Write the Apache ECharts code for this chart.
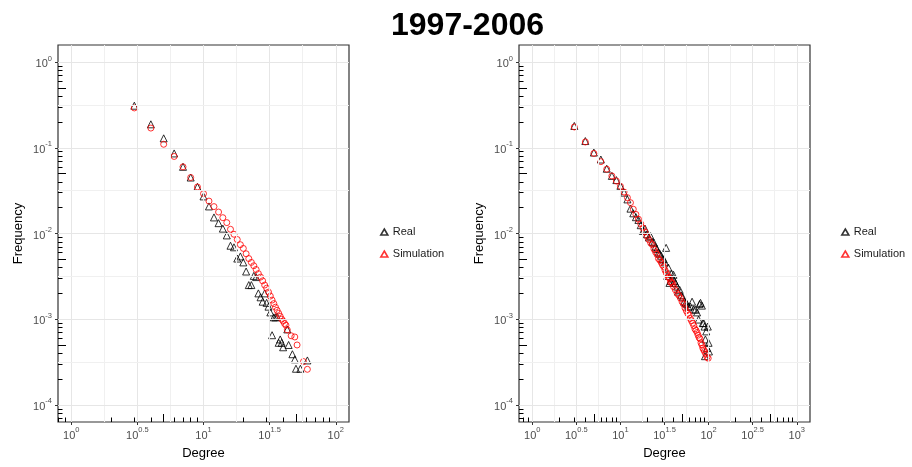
<!DOCTYPE html>
<html>
<head>
<meta charset="utf-8">
<script src="https://cdn.jsdelivr.net/npm/echarts@6/dist/echarts.min.js"></script>
<style>
html,body{margin:0;padding:0;background:#fff;}
#chart{width:912px;height:467px;}
</style>
</head>
<body>
<div id="chart"></div>
<script>
// ---------------- data (degree, frequency) ----------------
const leftRealDeg  = [3,4,5,6,7,8,9,10,11,12,13,14,15,16,17,18,19,20,21,22,23,24,25,26,27,28,29,30,31,32,33,34,35,36,37,38,39,40,43,44,47,49,50,54,61];
const leftRealFreq = [0.31,0.188,0.129,0.086,0.060,0.045,0.035,0.0271,0.0207,0.0154,0.0132,0.0114,0.0095,0.0072,0.0069,0.0051,0.0054,0.0046,0.0036,0.0025,0.0025,0.0032,0.0031,0.0020,0.0018,0.0016,0.0020,0.00155,0.0014,0.0012,0.00065,0.00105,0.00105,0.00107,0.00053,0.00058,0.00053,0.00047,0.00076,0.00050,0.00039,0.00034,0.000264,0.000264,0.00033];

const leftSimDeg  = [3,4,5,6,7,8,9,10,11,12,13,14,15,16,17,18,19,20,21,22,23,24,25,26,27,28,29,30,31,32,33,34,35,36,37,38,39,40,41,42,43,46,49,51,57,61];
const leftSimFreq = [0.292,0.170,0.110,0.0793,0.060,0.045,0.0349,0.0292,0.0239,0.0206,0.0178,0.0153,0.0134,0.0112,0.0098,0.0085,0.0074,0.0067,0.0058,0.0051,0.0046,0.0042,0.0038,0.0034,0.0031,0.0028,0.0025,0.0023,0.00207,0.00186,0.00167,0.00152,0.00138,0.00127,0.00117,0.00108,0.00100,0.00095,0.00089,0.00085,0.00075,0.00064,0.00062,0.00050,0.00032,0.00026];

const rightRealDeg  = [3,4,5,6,7,8,9,10,11,12,13,14,15,16,17,18,19,20,21,22,23,24,25,26,27,28,29,30,31,32,33,34,35,36,37,38,39,40,41,42,44,45,47,49,51,53,55,57,59,62,65,68,71,74,77,79,81,84,86,88,90,91,92,94,96,98,100,101];
const rightRealFreq = [0.18,0.12,0.088,0.073,0.057,0.047,0.042,0.036,0.030,0.025,0.0195,0.0172,0.0155,0.0144,0.0125,0.0107,0.0114,0.0098,0.0090,0.0093,0.0080,0.0078,0.0070,0.0066,0.0060,0.0058,0.0055,0.0050,0.0050,0.0046,0.0068,0.0032,0.0040,0.00265,0.0028,0.0034,0.0030,0.0033,0.0028,0.00265,0.0024,0.0021,0.0022,0.0019,0.0018,0.0016,0.00155,0.0015,0.0014,0.00141,0.0016,0.0013,0.00129,0.0012,0.00099,0.0015,0.00155,0.00144,0.0009,0.0009,0.00082,0.00037,0.00058,0.00072,0.00046,0.00082,0.00053,0.00042];

const rightSimDeg  = [3,4,5,6,7,8,9,10,11,12,13,14,15,16,17,18,19,20,21,22,23,24,25,26,27,28,29,30,31,32,33,34,35,36,37,38,39,40,42,44,46,48,50,52,54,56,58,60,62,64,66,68,70,72,74,76,78,80,82,84,86,88,90,93,96,99];
const rightSimFreq = [0.175,0.117,0.086,0.069,0.0563,0.047,0.041,0.0355,0.0305,0.0262,0.0229,0.0192,0.0167,0.0147,0.0130,0.0116,0.0104,0.0093,0.0085,0.0078,0.0074,0.0066,0.0061,0.0057,0.0051,0.0049,0.0046,0.0043,0.0041,0.00375,0.0035,0.0033,0.0031,0.0030,0.0027,0.0027,0.0026,0.0024,0.0022,0.0020,0.0019,0.00176,0.0016,0.0015,0.00135,0.00125,0.00117,0.00112,0.00102,0.00096,0.0009,0.00084,0.00077,0.00074,0.0007,0.00065,0.00061,0.00059,0.00053,0.0005,0.00046,0.00044,0.00042,0.00039,0.00036,0.00035];

// ---------------- tick labels (log10 exponents) ----------------
const xBreaksLeft  = [0, 0.5, 1, 1.5, 2];
const xBreaksRight = [0, 0.5, 1, 1.5, 2, 2.5, 3];
const yBreaks      = [-4, -3, -2, -1, 0];

const seriesNames = ['Real', 'Simulation'];
const titleText = '1997-2006';
const xName = 'Degree';
const yName = 'Frequency';

// ---------------- helpers ----------------
const L10 = Math.log10;
function pts(deg, freq) { return deg.map((d, i) => [L10(d), L10(freq[i])]); }
function logTicks(lo, hi, mults) {
  const out = [];
  for (let k = Math.floor(lo) - 1; k <= Math.ceil(hi); k++) {
    for (const m of mults) {
      const v = k + L10(m);
      if (v >= lo - 1e-9 && v <= hi + 1e-9) out.push(v);
    }
  }
  return out;
}
function halves(breaks, lo, hi) {
  const step = breaks[1] - breaks[0];
  const out = [];
  for (let i = -1; i < breaks.length; i++) {
    const v = breaks[0] + (i + 0.5) * step;
    if (v > lo && v < hi) out.push(v);
  }
  return out;
}
function expStr(v) { const r = Math.round(v * 10) / 10; return String(r === 0 ? 0 : r); }

const FONT = 'Liberation Sans, Arial, Helvetica, sans-serif';
const rich = {
  b: { fontSize: 11, color: '#4d4d4d', fontFamily: FONT, verticalAlign: 'bottom', lineHeight: 15 },
  s: { fontSize: 7.5, color: '#4d4d4d', fontFamily: FONT, verticalAlign: 'top', lineHeight: 9 }
};
const labFmt = v => '{b|10}{s|' + expStr(v) + '}';

const option = {
  animation: false,
  backgroundColor: '#fff',
  title: {
    text: titleText, left: 386, top: 5,
    textStyle: { fontSize: 32, fontWeight: 'bold', color: '#000', fontFamily: FONT }
  },
  grid: [], xAxis: [], yAxis: [], series: [],
  legend: []
};

function addPanel(gi, left, xMin, xMax, xBreaks, realD, realF, simD, simF, legendLeft) {
  const yMin = -4.2, yMax = 0.2;
  option.grid.push({ left: left, top: 45, width: 291, height: 377, show: true,
    borderColor: '#333', borderWidth: 1.2, backgroundColor: '#fff', containLabel: false });
  const xi = option.xAxis.length, yi = option.yAxis.length;
  const common = { gridIndex: gi, type: 'value', axisLine: { show: false, onZero: false },
    splitLine: { show: false }, axisPointer: { show: false } };
  // x axes
  option.xAxis.push(Object.assign({}, common, { min: xMin, max: xMax, position: 'bottom',
    axisTick: { show: true, customValues: xBreaks, inside: false, length: 3, lineStyle: { color: '#333', width: 1 } },
    axisLabel: { show: true, customValues: xBreaks, formatter: labFmt, rich: rich, margin: 4 },
    name: xName, nameLocation: 'middle', nameGap: 25,
    nameTextStyle: { fontSize: 13, color: '#000', fontFamily: FONT } }));
  const xTickSets = [[logTicks(xMin, xMax, [1]), 11.5], [logTicks(xMin, xMax, [5]), 8], [logTicks(xMin, xMax, [2,3,4,6,7,8,9]), 4.5]];
  xTickSets.forEach(([vals, len]) => option.xAxis.push(Object.assign({}, common, { min: xMin, max: xMax, position: 'bottom',
    axisTick: { show: true, customValues: vals, inside: true, length: len, lineStyle: { color: '#000', width: 1 } },
    axisLabel: { show: false } })));
  // y axes
  option.yAxis.push(Object.assign({}, common, { min: yMin, max: yMax, position: 'left',
    axisTick: { show: true, customValues: yBreaks, inside: false, length: 3, lineStyle: { color: '#333', width: 1 } },
    axisLabel: { show: true, customValues: yBreaks, formatter: labFmt, rich: rich, margin: 6 },
    name: yName, nameLocation: 'middle', nameGap: 33, nameRotate: 90,
    nameTextStyle: { fontSize: 13, color: '#000', fontFamily: FONT } }));
  const yTickSets = [[logTicks(yMin, yMax, [1]), 11.5], [logTicks(yMin, yMax, [5]), 8], [logTicks(yMin, yMax, [2,3,4,6,7,8,9]), 4.5]];
  yTickSets.forEach(([vals, len]) => option.yAxis.push(Object.assign({}, common, { min: yMin, max: yMax, position: 'left',
    axisTick: { show: true, customValues: vals, inside: true, length: len, lineStyle: { color: '#000', width: 1 } },
    axisLabel: { show: false } })));

  // grid lines via markLine
  const major = { color: '#e6e6e6', width: 1, type: 'solid' };
  const minor = { color: '#f0f0f0', width: 1, type: 'solid' };
  const ml = [];
  xBreaks.forEach(v => ml.push({ xAxis: v, lineStyle: major }));
  halves(xBreaks, xMin, xMax).forEach(v => ml.push({ xAxis: v, lineStyle: minor }));
  yBreaks.forEach(v => ml.push({ yAxis: v, lineStyle: major }));
  halves(yBreaks, yMin, yMax).forEach(v => ml.push({ yAxis: v, lineStyle: minor }));
  option.series.push({ type: 'scatter', xAxisIndex: xi, yAxisIndex: yi, data: [], silent: true, z: 1,
    markLine: { silent: true, symbol: ['none', 'none'], label: { show: false }, animation: false,
      emphasis: { disabled: true }, data: ml } });

  option.series.push({ type: 'scatter', name: seriesNames[0], xAxisIndex: xi, yAxisIndex: yi,
    data: pts(realD, realF), symbol: 'triangle', symbolSize: 7, z: 3,
    itemStyle: { color: 'rgba(0,0,0,0)', borderColor: '#000', borderWidth: 1 } });
  option.series.push({ type: 'scatter', name: seriesNames[1], xAxisIndex: xi, yAxisIndex: yi,
    data: pts(simD, simF), symbol: 'circle', symbolSize: 6, z: 4,
    itemStyle: { color: 'rgba(0,0,0,0)', borderColor: '#ff0000', borderWidth: 1 } });

  option.legend.push({ orient: 'vertical', left: legendLeft, top: 226.5, padding: 0,
    itemWidth: 7, itemHeight: 6, itemGap: 11, itemTextGap: 10,
    selectedMode: false,
    itemStyle: { borderWidth: 1.6 },
    data: [{ name: seriesNames[0], icon: 'triangle' }, { name: seriesNames[1], icon: 'triangle' }],
    textStyle: { fontSize: 11, color: '#1a1a1a', fontFamily: FONT } });
}

addPanel(0, 58, -0.1, 2.1, xBreaksLeft, leftRealDeg, leftRealFreq, leftSimDeg, leftSimFreq, 380);
addPanel(1, 519, -0.15, 3.15, xBreaksRight, rightRealDeg, rightRealFreq, rightSimDeg, rightSimFreq, 841);

const chart = echarts.init(document.getElementById('chart'), null, { renderer: 'canvas' });
chart.setOption(option);
</script>
</body>
</html>
